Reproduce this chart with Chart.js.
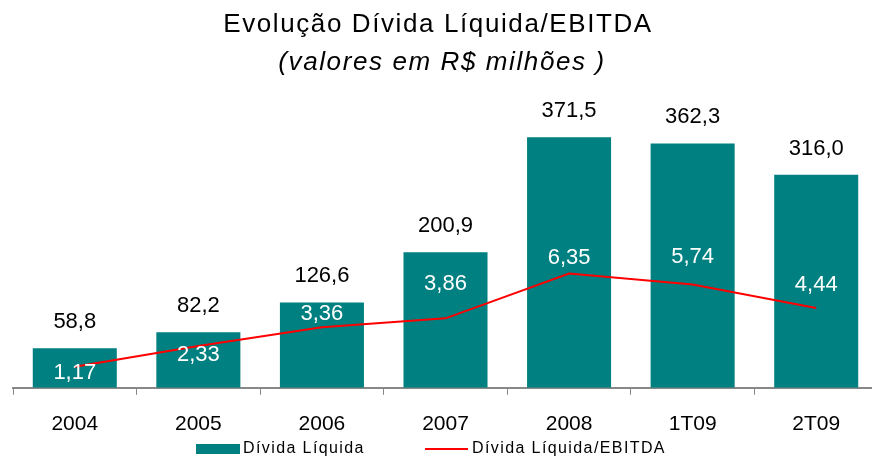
<!DOCTYPE html>
<html>
<head>
<meta charset="utf-8">
<script src="https://cdn.jsdelivr.net/npm/chart.js@4.4.1/dist/chart.umd.min.js"></script>
<style>
  html, body { margin: 0; padding: 0; background: #fff; overflow: hidden; }
  #wrap { position: absolute; left: 0; top: 0; width: 880px; height: 458px; }
</style>
</head>
<body>
<div id="wrap"><canvas id="chart"></canvas></div>
<script>
// Data
const categories = ['2004', '2005', '2006', '2007', '2008', '1T09', '2T09']
const dividaLiquida = [58.8, 82.2, 126.6, 200.9, 371.5, 362.3, 316.0]
const dividaEbitda = [1.17, 2.33, 3.36, 3.86, 6.35, 5.74, 4.44]

const titleText = 'Evolução Dívida Líquida/EBITDA'
const subtitleText = '(valores em R$ milhões )'

// label nudges for the ratio labels (px above the point), like the hand placed ones
const ratioLabelLift = [-6, -9, 13, 34, 16, 28, 23]

const TEAL = '#008080'
const RED = '#ff0000'
const FONT = "'Liberation Sans', Arial, sans-serif"

const fmt = (v, d) => v.toFixed(d).replace('.', ',')

// Title drawn by hand so it can get the wide letter spacing of the original
const spacedTitle = {
  id: 'spacedTitle',
  afterDraw(chart) {
    const ctx = chart.ctx
    const cx = 438
    ctx.save()
    ctx.fillStyle = '#000'
    ctx.textAlign = 'center'
    ctx.textBaseline = 'middle'
    ctx.letterSpacing = '1.6px'
    ctx.font = '26px ' + FONT
    ctx.fillText(titleText, cx, 25)
    ctx.font = 'italic 26px ' + FONT
    ctx.fillText(subtitleText, cx + 4, 63)
    ctx.restore()
  }
}

// Value labels: black above bars, white for the ratio line
const valueLabels = {
  id: 'valueLabels',
  afterDatasetsDraw(chart) {
    const ctx = chart.ctx
    ctx.save()
    ctx.font = '22px ' + FONT
    ctx.textAlign = 'center'
    ctx.textBaseline = 'middle'

    const bars = chart.getDatasetMeta(1).data
    ctx.fillStyle = '#000'
    bars.forEach((bar, i) => {
      ctx.fillText(fmt(dividaLiquida[i], 1), bar.x, bar.y - 26)
    })

    const pts = chart.getDatasetMeta(0).data
    ctx.fillStyle = '#fff'
    pts.forEach((pt, i) => {
      ctx.fillText(fmt(dividaEbitda[i], 2), pt.x, pt.y - ratioLabelLift[i])
    })
    ctx.restore()
  }
}

// Legend at the bottom: teal box + red line
const bottomLegend = {
  id: 'bottomLegend',
  afterDraw(chart) {
    const ctx = chart.ctx
    const y = 449
    ctx.save()
    ctx.font = '16px ' + FONT
    ctx.letterSpacing = '1.4px'
    ctx.textBaseline = 'middle'
    ctx.fillStyle = TEAL
    ctx.fillRect(196, y - 5, 44, 10)
    ctx.fillStyle = '#000'
    ctx.fillText(chart.data.datasets[1].label, 243, y)

    ctx.strokeStyle = RED
    ctx.lineWidth = 2
    ctx.beginPath()
    ctx.moveTo(425, y)
    ctx.lineTo(468, y)
    ctx.stroke()
    ctx.fillText(chart.data.datasets[0].label, 472, y)
    ctx.restore()
  }
}

const chart = new Chart(document.getElementById('chart'), {
  data: {
    labels: categories,
    datasets: [{
      type: 'line',
      label: 'Dívida Líquida/EBITDA',
      data: dividaEbitda,
      yAxisID: 'y2',
      borderColor: RED,
      borderWidth: 2,
      pointRadius: 0,
      tension: 0,
      order: 0
    }, {
      type: 'bar',
      label: 'Dívida Líquida',
      data: dividaLiquida,
      yAxisID: 'y',
      backgroundColor: TEAL,
      barPercentage: 0.68,
      categoryPercentage: 1,
      order: 1
    }]
  },
  options: {
    responsive: true,
    maintainAspectRatio: false,
    animation: false,
    layout: { padding: { left: 13, right: 2, top: 118, bottom: 4 } },
    plugins: {
      legend: { display: false },
      tooltip: { enabled: false },
      title: { display: false }
    },
    scales: {
      x: {
        grid: {
          offset: true,
          drawOnChartArea: false,
          drawTicks: true,
          tickLength: 7,
          color: '#888',
          lineWidth: 1
        },
        border: { display: true, color: '#888', width: 2 },
        ticks: {
          color: '#000',
          font: { family: FONT, size: 21 },
          padding: 17
        }
      },
      y: {
        display: false,
        min: 0,
        max: 400
      },
      y2: {
        display: false,
        position: 'right',
        min: 0,
        max: 15
      }
    }
  },
  plugins: [valueLabels, bottomLegend, spacedTitle]
})
</script>
</body>
</html>
